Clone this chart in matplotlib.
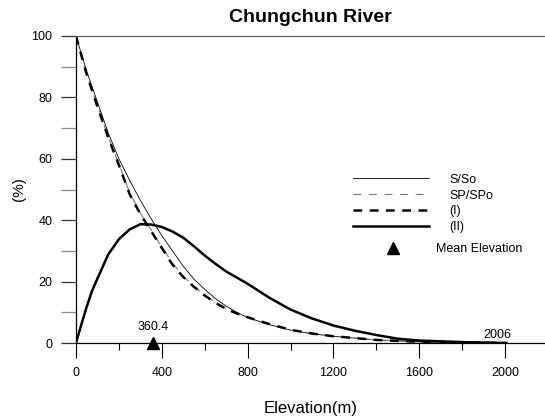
import matplotlib
matplotlib.use("Agg")
import matplotlib.pyplot as plt
from matplotlib.lines import Line2D
from matplotlib.ticker import MultipleLocator

plt.rcParams['font.family'] = ['Liberation Sans', 'DejaVu Sans']

# elevation (m) and curve values (%)
elev_s = [0, 50, 100, 150, 200, 250, 300, 350, 400, 450, 500, 550, 600, 650, 700, 750,
          800, 900, 1000, 1100, 1200, 1400, 1600, 1800, 2006]
s_so = [100, 88.5, 78.5, 68.5, 60, 53, 46.5, 40.5, 35, 30, 25, 20.8, 17.5, 14.5, 12, 10,
        8.3, 6, 4.2, 3.0, 2.2, 1.0, 0.4, 0.1, 0]
sp_spo = [100, 87.8, 77.3, 67.2, 58.3, 49, 42.3, 36.8, 31.3, 26, 21.8, 18.5, 15.6, 13.1, 11.2, 9.6,
          8.3, 6.1, 4.3, 3.1, 2.2, 1.0, 0.4, 0.1, 0]
curve_1 = [100, 87.5, 77, 67, 58, 48.5, 42, 36.5, 31, 25.5, 21.5, 18.3, 15.5, 13.1, 11.1, 9.6,
           8.4, 6.2, 4.3, 3.1, 2.2, 1.0, 0.4, 0.1, 0]

elev_2 = [0, 25, 50, 75, 100, 150, 200, 250, 300, 350, 400, 450, 500, 550, 600, 650, 700,
          800, 900, 1000, 1100, 1200, 1300, 1400, 1500, 1600, 1800, 2006]
curve_2 = [0, 6, 11.8, 17, 21, 28.8, 33.8, 37, 38.7, 38.6, 37.8, 36.3, 34.3, 31.5, 28.5, 25.8, 23.3,
           19.3, 14.8, 10.9, 8.0, 5.7, 4.0, 2.6, 1.4, 0.8, 0.3, 0]

mean_elev = 360.4
max_elev = 2006

fig = plt.figure(figsize=(5.45, 4.2), dpi=100)
ax = fig.add_axes([0.1394, 0.1833, 0.8606, 0.7310])

ax.plot(elev_s, s_so, color='black', lw=0.6)
ax.plot(elev_s, sp_spo, color='#777777', lw=0.8, dashes=(7, 7))
ax.plot(elev_s, curve_1, color='black', lw=1.8, dashes=(3.5, 3))
ax.plot(elev_2, curve_2, color='black', lw=1.8)
ax.plot([mean_elev], [0], marker='^', color='black', ms=9, ls='none', clip_on=False, zorder=5)

ax.text(mean_elev, 3.3, '360.4', ha='center', va='bottom', fontsize=9)
ax.text(max_elev - 40, 0.8, '2006', ha='center', va='bottom', fontsize=9)

ax.set_xlim(0, 2186)
ax.set_ylim(0, 100)
ax.xaxis.set_major_locator(MultipleLocator(400))
ax.xaxis.set_minor_locator(MultipleLocator(200))
ax.yaxis.set_major_locator(MultipleLocator(20))
ax.yaxis.set_minor_locator(MultipleLocator(10))
ax.tick_params(axis='x', which='major', direction='out', length=11, width=0.8, pad=6, labelsize=9)
ax.tick_params(axis='x', which='minor', direction='out', length=5, width=0.8)
ax.tick_params(axis='y', which='major', direction='out', length=11, width=0.9, pad=6,
               labelsize=9, color='#333333')
ax.tick_params(axis='y', which='minor', direction='out', length=11, width=0.9, color='#888888')

ax.spines['right'].set_visible(False)
ax.spines['top'].set_color('#555555')
ax.spines['left'].set_linewidth(0.9)
ax.spines['bottom'].set_linewidth(0.9)

ax.set_title('Chungchun River', fontsize=14, fontweight='bold', pad=10)
ax.set_xlabel('Elevation(m)', fontsize=12, labelpad=16)
ax.set_ylabel('(%)', fontsize=11, labelpad=4)

handles = [
    Line2D([], [], color='black', lw=0.6),
    Line2D([], [], color='#777777', lw=0.8, dashes=(7, 7)),
    Line2D([], [], color='black', lw=1.8, dashes=(3.5, 3)),
    Line2D([], [], color='black', lw=1.8),
]
leg1 = ax.legend(handles, ['S/So', 'SP/SPo', '(I)', '(II)'], loc='upper left',
                 bbox_to_anchor=(0.59, 0.551), frameon=False, fontsize=9,
                 handlelength=6.1, handletextpad=1.6, labelspacing=0.3,
                 borderpad=0, borderaxespad=0)
ax.add_artist(leg1)
ax.legend([Line2D([], [], marker='^', color='black', ms=9, ls='none')], ['Mean Elevation'],
          loc='upper left', bbox_to_anchor=(0.635, 0.326), frameon=False, fontsize=9,
          handlelength=3, handletextpad=2.0, borderpad=0, borderaxespad=0)

fig.savefig('out.png', dpi=100)
